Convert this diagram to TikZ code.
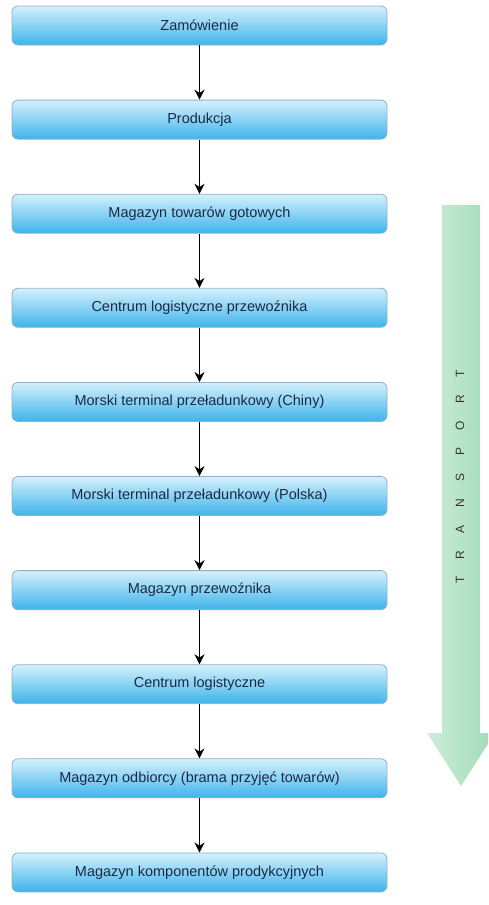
\documentclass[tikz,border=0pt]{standalone}
\usepackage{fontspec}
\setmainfont{Liberation Sans}
\newfontfamily\spacedfont[LetterSpace=118]{Liberation Sans}
\usetikzlibrary{arrows.meta}
\definecolor{boxtop}{HTML}{D4F1FC}
\definecolor{boxmid}{HTML}{74CEF4}
\definecolor{boxbot}{HTML}{3FB3EB}
\definecolor{boxline}{HTML}{8CB2CC}
\definecolor{boxtext}{HTML}{1B2A44}
\definecolor{greenlight}{HTML}{CDEDD9}
\definecolor{greendark}{HTML}{A0DAB8}

\begin{document}
\begin{tikzpicture}[x=1pt,y=-1pt,
   stage/.style={rectangle,rounded corners=6pt,draw=boxline,line width=0.8pt,
      top color=boxtop,middle color=boxmid,bottom color=boxbot,
      minimum width=375pt,minimum height=39pt,text=boxtext,
      font=\fontsize{14.5}{16}\selectfont},
   flow/.style={-{Stealth[length=10pt,width=10pt]},line width=1.4pt}]
   \useasboundingbox (0,0) rectangle (488,905);
   % transport arrow on the right
   \begin{scope}
      \clip (0,0) rectangle (488,905);
      \shade[left color=greenlight,right color=greendark]
         (442,205) -- (480,205) -- (480,733) -- (495,733) -- (461,786)
         -- (427,733) -- (442,733) -- cycle;
   \end{scope}
   \node (transport) at (460,477) [rotate=90,text=black!80,
      font=\spacedfont\fontsize{12}{14}\selectfont] {T R A N S P O R T};
   % stages
   \node (order)      at (199.5,25.5)  [stage] {Zamówienie};
   \node (production) at (199.5,119.6) [stage] {Produkcja};
   \node (goods)      at (199.5,213.7) [stage] {Magazyn towarów gotowych};
   \node (carriercl)  at (199.5,307.8) [stage] {Centrum logistyczne przewoźnika};
   \node (portcn)     at (199.5,401.9) [stage] {Morski terminal przeładunkowy (Chiny)};
   \node (portpl)     at (199.5,496.0) [stage] {Morski terminal przeładunkowy (Polska)};
   \node (carrierwh)  at (199.5,590.1) [stage] {Magazyn przewoźnika};
   \node (logcenter)  at (199.5,684.2) [stage] {Centrum logistyczne};
   \node (receiver)   at (199.5,778.3) [stage] {Magazyn odbiorcy (brama przyjęć towarów)};
   \node (parts)      at (199.5,872.4) [stage] {Magazyn komponentów prodykcyjnych};
   \draw[flow] (order) to (production);
   \draw[flow] (production) to (goods);
   \draw[flow] (goods) to (carriercl);
   \draw[flow] (carriercl) to (portcn);
   \draw[flow] (portcn) to (portpl);
   \draw[flow] (portpl) to (carrierwh);
   \draw[flow] (carrierwh) to (logcenter);
   \draw[flow] (logcenter) to (receiver);
   \draw[flow] (receiver) to (parts);
\end{tikzpicture}
\end{document}
